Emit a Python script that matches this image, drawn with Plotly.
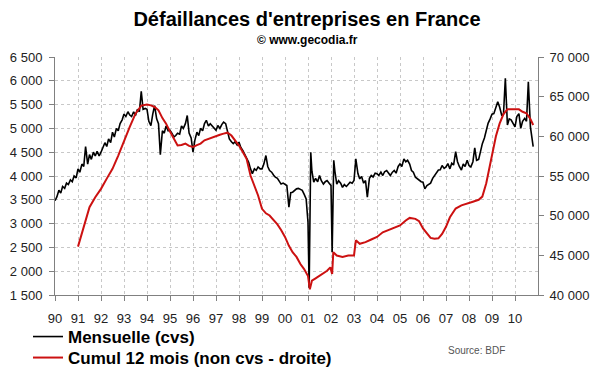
import plotly.graph_objects as go

# ---- data ----
mensuelle_x = [
    1990.00, 1990.08, 1990.17, 1990.25, 1990.33, 1990.42, 1990.50, 1990.58, 1990.67, 1990.75, 1990.83, 1990.92,
    1991.00, 1991.08, 1991.17, 1991.25, 1991.33, 1991.42, 1991.50, 1991.58, 1991.67, 1991.75, 1991.83, 1991.92,
    1992.00, 1992.08, 1992.17, 1992.25, 1992.33, 1992.42, 1992.50, 1992.58, 1992.67, 1992.75, 1992.83, 1992.92,
    1993.00, 1993.08, 1993.17, 1993.25, 1993.33, 1993.42, 1993.50, 1993.58, 1993.67, 1993.75, 1993.83, 1993.92,
    1994.00, 1994.08, 1994.17, 1994.25, 1994.33, 1994.42, 1994.50, 1994.58, 1994.67, 1994.75, 1994.83, 1994.92,
    1995.00, 1995.08, 1995.17, 1995.25, 1995.33, 1995.42, 1995.50, 1995.58, 1995.67, 1995.75, 1995.83, 1995.92,
    1996.00, 1996.08, 1996.17, 1996.25, 1996.33, 1996.42, 1996.50, 1996.58, 1996.67, 1996.75, 1996.83, 1996.92,
    1997.00, 1997.08, 1997.17, 1997.25, 1997.33, 1997.42, 1997.50, 1997.58, 1997.67, 1997.75, 1997.83, 1997.92,
    1998.00, 1998.08, 1998.17, 1998.25, 1998.33, 1998.42, 1998.50, 1998.58, 1998.67, 1998.75, 1998.83, 1998.92,
    1999.00, 1999.08, 1999.17, 1999.25, 1999.33, 1999.42, 1999.50, 1999.58, 1999.67, 1999.75, 1999.83, 1999.92,
    2000.00, 2000.08, 2000.17, 2000.25, 2000.33, 2000.42, 2000.50, 2000.58, 2000.67, 2000.75, 2000.83, 2000.92,
    2001.00, 2001.05, 2001.12, 2001.17, 2001.25, 2001.33, 2001.42, 2001.50, 2001.58, 2001.67, 2001.75, 2001.83, 2001.92,
    2002.00, 2002.05, 2002.12, 2002.17, 2002.25, 2002.33, 2002.42, 2002.50, 2002.58, 2002.67, 2002.75, 2002.83, 2002.92,
    2003.00, 2003.08, 2003.17, 2003.25, 2003.33, 2003.42, 2003.50, 2003.58, 2003.67, 2003.75, 2003.83, 2003.92,
    2004.00, 2004.08, 2004.17, 2004.25, 2004.33, 2004.42, 2004.50, 2004.58, 2004.67, 2004.75, 2004.83, 2004.92,
    2005.00, 2005.08, 2005.17, 2005.25, 2005.33, 2005.42, 2005.50, 2005.58, 2005.67, 2005.75, 2005.83, 2005.92,
    2006.00, 2006.08, 2006.17, 2006.25, 2006.33, 2006.42, 2006.50, 2006.58, 2006.67, 2006.75, 2006.83, 2006.92,
    2007.00, 2007.08, 2007.17, 2007.25, 2007.33, 2007.42, 2007.50, 2007.58, 2007.67, 2007.75, 2007.83, 2007.92,
    2008.00, 2008.08, 2008.17, 2008.25, 2008.33, 2008.42, 2008.50, 2008.58, 2008.67, 2008.75, 2008.83, 2008.92,
    2009.00, 2009.08, 2009.17, 2009.25, 2009.33, 2009.42, 2009.50, 2009.58, 2009.67, 2009.75, 2009.83, 2009.92,
    2010.00, 2010.08, 2010.17, 2010.25, 2010.33, 2010.42, 2010.50, 2010.58, 2010.67, 2010.79,
]
mensuelle_y = [
    3480, 3560, 3700, 3640, 3780, 3740, 3850, 3820, 3920, 3880, 4000, 3960,
    4150, 4080, 4250, 4200, 4620, 4250, 4450, 4350, 4500, 4420, 4520, 4420,
    4500, 4600, 4700, 4620, 4780, 4700, 4920, 4820, 5000, 4950, 5100, 5180,
    5300, 5250, 5350, 5280, 5250, 5350, 5270, 5400, 5350, 5780, 5400, 5420,
    5400, 5150, 5060, 5300, 5480, 5200, 5100, 4450, 4950, 4900, 5050, 4950,
    4960, 4900, 4820, 4850, 4900, 4880, 5050, 5000, 5100, 5270, 4900, 4800,
    4500, 4750, 4920, 4850, 5000, 4950, 5100, 5170, 5050, 5100, 5060, 5000,
    4960, 5060, 5000, 5080, 5130, 5100, 4950, 4780, 4720, 4680, 4720, 4650,
    4710, 4600, 4535, 4450, 4350, 4290, 4150, 4050, 4150, 4120, 4190, 4150,
    4150, 4250, 4430, 4200, 4115, 4080, 4020, 3975, 3950, 3880, 3830, 3850,
    3830, 3800, 3345, 3650, 3660, 3700, 3730, 3740, 3720, 3700, 3620, 3520,
    3030, 1650, 4500, 4100, 3870, 3950, 3880, 4010, 3900, 3830, 3880, 3905, 3850,
    3800, 2400, 4330, 4100, 3830, 3900, 3850, 3760, 3820, 3780, 3830, 3870, 3850,
    3905, 4360, 4050, 3940, 3990, 3850, 3905, 3555, 3950, 4010, 3980, 4060,
    4050, 4010, 4080, 4010, 4090, 4115, 4060, 4010, 4080, 4115, 4060, 4200,
    4255, 4200, 4360, 4300, 4330, 4250, 4115, 4080, 3975, 3940, 3900, 3880,
    3870, 3730, 3800, 3830, 3850, 3950, 4010, 4050, 4126, 4130, 4220, 4160,
    4190, 4260, 4150, 4270, 4230, 4510, 4300, 4200, 4126, 4250, 4200, 4330,
    4220, 4190, 4300, 4590, 4330, 4350, 4550, 4680, 4800, 4950, 5107, 5200,
    5300, 5310, 5450, 5561, 5450, 5280, 5300, 6052, 5070, 5200, 5180, 5100,
    5030, 5250, 5310, 5000, 5150, 5210, 5150, 5981, 5030, 4616,
]

cumul_x = [
    1991.00, 1991.25, 1991.50, 1991.75, 1992.00, 1992.25, 1992.50, 1992.75,
    1993.00, 1993.25, 1993.50, 1993.75, 1994.00, 1994.17, 1994.33, 1994.50, 1994.67, 1994.83,
    1995.00, 1995.17, 1995.33, 1995.50, 1995.67, 1995.83, 1996.00, 1996.17, 1996.33, 1996.50, 1996.67, 1996.83,
    1997.00, 1997.17, 1997.33, 1997.50, 1997.67, 1997.83, 1998.00, 1998.17, 1998.33, 1998.50, 1998.67, 1998.83,
    1999.00, 1999.17, 1999.33, 1999.50, 1999.67, 1999.83, 2000.00, 2000.17, 2000.33, 2000.50, 2000.67, 2000.83,
    2001.00, 2001.08, 2001.17, 2001.33, 2001.50, 2001.67, 2001.83, 2001.97, 2002.05, 2002.10, 2002.25, 2002.50, 2002.75,
    2003.00, 2003.08, 2003.25, 2003.50, 2003.75, 2004.00, 2004.25, 2004.50, 2004.75,
    2005.00, 2005.25, 2005.42, 2005.67, 2005.83, 2006.00, 2006.17, 2006.33, 2006.50, 2006.67, 2006.83,
    2007.00, 2007.17, 2007.33, 2007.42, 2007.67, 2007.92, 2008.17, 2008.42, 2008.58, 2008.75, 2008.92,
    2009.00, 2009.17, 2009.33, 2009.50, 2009.67, 2010.00, 2010.17, 2010.33, 2010.50, 2010.67, 2010.79,
]
cumul_y = [
    46100, 48760, 51070, 52330, 53380, 54670, 55900, 57580,
    59500, 61180, 62860, 63880, 64000, 63900, 63700, 63280, 62300, 61600,
    60600, 59700, 58840, 58900, 59080, 58800, 58660, 58900, 59080, 59500, 59680, 59900,
    60100, 60200, 60340, 60460, 60100, 59500, 58840, 58000, 57160, 55060, 53700, 52540,
    50860, 50300, 50020, 49500, 48900, 48200, 47320, 46200, 45400, 44800, 43900, 43270,
    42400, 40720, 41800, 42100, 42400, 42700, 43060, 43480, 42640, 45400, 44980, 44800, 44980,
    44980, 46900, 46450, 46660, 47000, 47320, 47900, 48200, 48500,
    48760, 49400, 49720, 49600, 49300, 48400, 47800, 47200, 47080, 47150, 47700,
    48600, 49800, 50500, 50900, 51300, 51500, 51760, 52000, 52400, 54080, 56500,
    57430, 60000, 61600, 62800, 63400, 63400, 63400, 63100, 62900, 62200, 61430,
]

year_ticks = list(range(1990, 2011))
year_labels = ["90", "91", "92", "93", "94", "95", "96", "97", "98", "99",
               "00", "01", "02", "03", "04", "05", "06", "07", "08", "09", "10"]

FONT = "Liberation Sans, Arial, sans-serif"
GRID = "#c8c8c8"
AXIS = "#808080"

fig = go.Figure()
fig.add_trace(go.Scatter(
    x=mensuelle_x, y=mensuelle_y, mode="lines", name="<b>Mensuelle (cvs)</b>",
    line=dict(color="#000000", width=1.6), yaxis="y", legend="legend"))
fig.add_trace(go.Scatter(
    x=cumul_x, y=cumul_y, mode="lines", name="<b>Cumul 12 mois (non cvs - droite)</b>",
    line=dict(color="#cc1111", width=2), yaxis="y2", legend="legend2"))

legend_common = dict(xanchor="left", yanchor="middle", bgcolor="rgba(0,0,0,0)",
                     font=dict(family=FONT, size=17, color="#000000"), itemwidth=30)

fig.update_layout(
    width=600, height=372,
    margin=dict(l=55, r=62, t=57, b=77, autoexpand=False),
    paper_bgcolor="white", plot_bgcolor="white",
    separators=". ",
    font=dict(family=FONT, size=13, color="#222222"),
    title=dict(text="<b>Défaillances d'entreprises en France</b>",
               x=307 / 600, xanchor="center", xref="container",
               y=1 - 19 / 372, yanchor="middle",
               font=dict(family=FONT, size=20, color="#000000")),
    xaxis=dict(range=[1990, 2011], tickvals=year_ticks, ticktext=year_labels,
               showgrid=True, gridcolor=GRID, griddash="dot", gridwidth=1,
               showline=True, linecolor=AXIS, linewidth=1,
               ticks="outside", ticklen=5, tickcolor=AXIS, ticklabelstandoff=6,
               tickfont=dict(size=13, color="#222222"), zeroline=False),
    yaxis=dict(range=[1500, 6500], dtick=500, tick0=1500, tickformat=",d",
               showgrid=True, gridcolor=GRID, griddash="dot", gridwidth=1,
               showline=True, linecolor=AXIS, linewidth=1,
               ticks="outside", ticklen=5, tickcolor=AXIS, ticklabelstandoff=4,
               tickfont=dict(size=13, color="#222222"), zeroline=False),
    yaxis2=dict(range=[40000, 70000], dtick=5000, tick0=40000, tickformat=",d",
                overlaying="y", side="right", showgrid=False,
                showline=True, linecolor=AXIS, linewidth=1,
                ticks="outside", ticklen=5, tickcolor=AXIS, ticklabelstandoff=3,
                tickfont=dict(size=13, color="#222222"), zeroline=False),
    legend=dict(x=(28 - 55) / 483, y=-(337 - 295) / 238, **legend_common),
    legend2=dict(x=(28 - 55) / 483, y=-(358 - 295) / 238, **legend_common),
    showlegend=True,
    annotations=[
        dict(text="<b>© www.gecodia.fr</b>", xref="paper", yref="paper",
             x=(307 - 55) / 483, y=1 + (57 - 40) / 238, xanchor="center", yanchor="middle",
             showarrow=False, font=dict(family=FONT, size=12, color="#000000")),
        dict(text="Source: BDF", xref="paper", yref="paper",
             x=(446 - 55) / 483, y=-(350 - 295) / 238, xanchor="left", yanchor="middle",
             showarrow=False, font=dict(family=FONT, size=10, color="#555555")),
    ],
)

fig.write_html("out.html", config={"displayModeBar": False})

# remove the browser's default page margin so the figure sits at the top-left corner
with open("out.html", "r", encoding="utf-8") as f:
    html = f.read()
html = html.replace("<head>", "<head><style>html,body{margin:0;padding:0;}</style>", 1)
with open("out.html", "w", encoding="utf-8") as f:
    f.write(html)
